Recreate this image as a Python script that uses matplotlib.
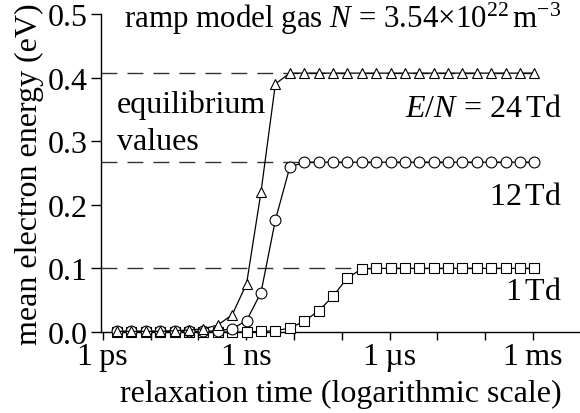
import matplotlib
matplotlib.use("Agg")
import matplotlib.pyplot as plt
from matplotlib.ticker import FixedLocator, FixedFormatter, NullLocator

plt.rcParams['font.family'] = ['Liberation Serif', 'DejaVu Serif']
plt.rcParams['mathtext.fontset'] = 'custom'
plt.rcParams['mathtext.rm'] = 'Liberation Serif'
plt.rcParams['mathtext.it'] = 'Liberation Serif:italic'
plt.rcParams['mathtext.bf'] = 'Liberation Serif:bold'
plt.rcParams['font.size'] = 23

# relaxation times (s), doubling from 2 ps
times = [2e-12, 4e-12, 8e-12, 1.6e-11, 3.2e-11, 6.4e-11, 1.28e-10, 2.56e-10,
         5.12e-10, 1.024e-9, 2.048e-9, 4.096e-9, 8.192e-9, 1.638e-8, 3.277e-8,
         6.554e-8, 1.311e-7, 2.621e-7, 5.243e-7, 1.049e-6, 2.097e-6, 4.194e-6,
         8.389e-6, 1.678e-5, 3.355e-5, 6.711e-5, 1.342e-4, 2.684e-4, 5.369e-4,
         1.074e-3]

# mean electron energy (eV)
e_24td = [0.001, 0.001, 0.001, 0.001, 0.002, 0.003, 0.005, 0.011, 0.027, 0.076,
          0.22, 0.39, 0.407, 0.407, 0.407, 0.407, 0.407, 0.407, 0.407, 0.407,
          0.407, 0.407, 0.407, 0.407, 0.407, 0.407, 0.407, 0.407, 0.407, 0.407]
e_12td = [0.001, 0.001, 0.001, 0.001, 0.001, 0.001, 0.001, 0.002, 0.005, 0.018,
          0.062, 0.176, 0.259, 0.267, 0.267, 0.267, 0.267, 0.267, 0.267, 0.267,
          0.267, 0.267, 0.267, 0.267, 0.267, 0.267, 0.267, 0.267, 0.267, 0.267]
e_1td = [0.0, 0.0, 0.0, 0.0, 0.0, 0.0, 0.0, 0.0, 0.0, 0.0,
         0.001, 0.002, 0.006, 0.017, 0.033, 0.056, 0.085, 0.099, 0.1, 0.1,
         0.1, 0.1, 0.1, 0.1, 0.1, 0.1, 0.1, 0.1, 0.1, 0.1]

equilibrium = [0.407, 0.267, 0.1]

tick_pos = [1e-12, 1e-11, 1e-10, 1e-9, 1e-8, 1e-7, 1e-6, 1e-5, 1e-4, 1e-3]
tick_lab = ['1\u2009ps', '', '', '1\u2009ns', '', '', '1\u2009\u00b5s', '', '', '1\u2009ms']

fig = plt.figure(figsize=(5.8, 4.14), dpi=100)
ax = fig.add_axes([0.1741, 0.1957, 0.8259, 0.7681])

ax.hlines(equilibrium, 10**-12.036, times[-1], colors='#333333', lw=1.0,
          linestyles=(0, (11.5, 7.2)), zorder=1)

style = dict(color='black', lw=0.9, mfc='white', mec='black', mew=0.8,
             clip_on=False, zorder=3)
ax.plot(times, e_1td, marker='s', ms=7.2, **style)
ax.plot(times, e_12td, marker='o', ms=7.8, **style)
ax.plot(times, e_24td, marker='^', ms=7.6, **style)

ax.set_xscale('log')
ax.set_xlim(10**-12.036, 10**-2.015)
ax.set_ylim(0, 0.5)
ax.xaxis.set_major_locator(FixedLocator(tick_pos))
ax.xaxis.set_major_formatter(FixedFormatter(tick_lab))
ax.xaxis.set_minor_locator(NullLocator())
ax.set_yticks([0.0, 0.1, 0.2, 0.3, 0.4, 0.5])
ax.set_yticklabels(['0.0', '0.1', '0.2', '0.3', '0.4', '0.5'])

ax.spines['top'].set_visible(False)
ax.spines['right'].set_visible(False)
for s in ['left', 'bottom']:
    ax.spines[s].set_linewidth(1.0)
ax.tick_params(axis='x', direction='out', length=6, width=1.0, pad=1)
ax.tick_params(axis='y', direction='out', length=7.5, width=1.0, pad=2)

fig.text(29/580, 1 - 174/414, 'mean electron energy (eV)', rotation=90,
         ha='center', va='center')
fig.text(341/580, 1 - 402/414, 'relaxation time (logarithmic scale)',
         ha='center', va='baseline')

fig.text(124/580, 1 - 28/414,
         r'ramp model gas $N$ = 3.54$\times$10$^{22}\,$m$^{-3}$',
         ha='left', va='baseline', fontsize=22.3)
fig.text(117/580, 1 - 113/414, 'equilibrium', ha='left', va='baseline')
fig.text(117/580, 1 - 150/414, 'values', ha='left', va='baseline')
fig.text(562/580, 1 - 117/414, r'$E/N$ = 24$\,$Td', ha='right', va='baseline')
fig.text(562/580, 1 - 205/414, r'12$\,$Td', ha='right', va='baseline')
fig.text(562/580, 1 - 300/414, r'1$\,$Td', ha='right', va='baseline')

fig.savefig('out.png', dpi=100)
